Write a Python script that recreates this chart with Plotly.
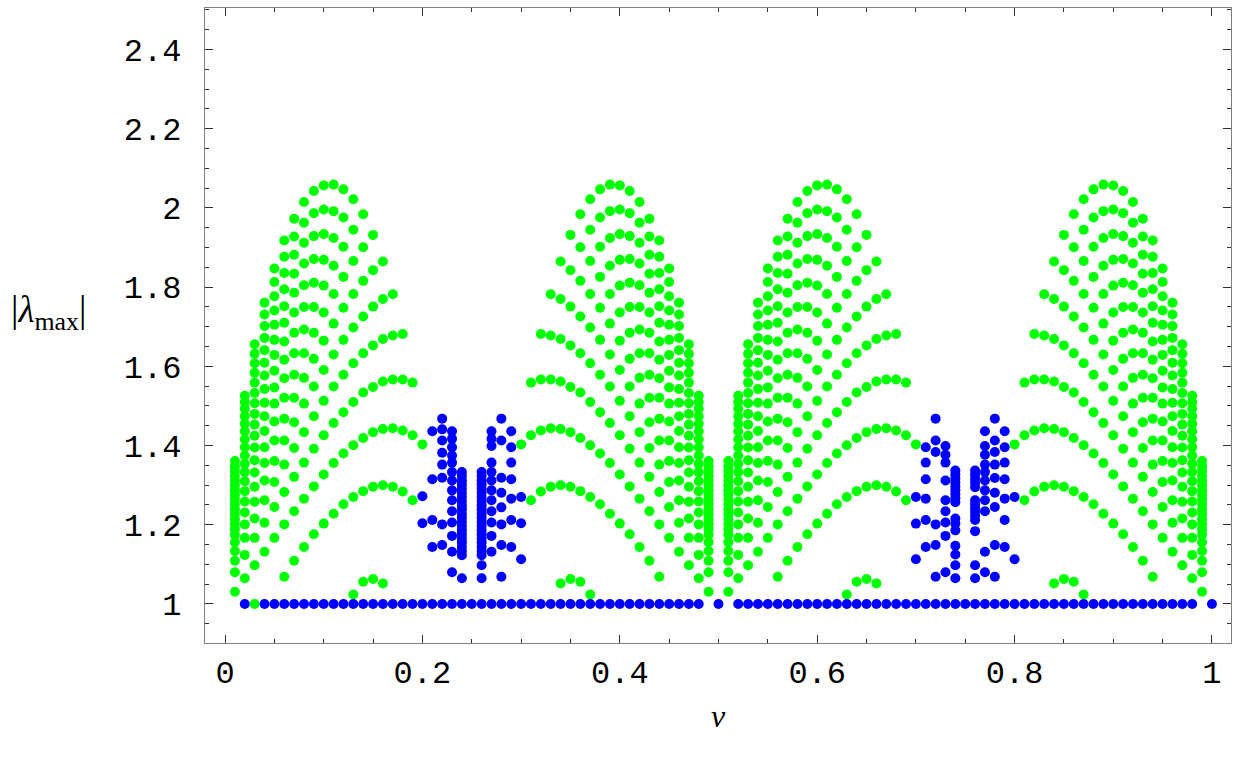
import plotly.graph_objects as go

# ---------------- data ----------------
# green |lambda_max| values, per nu column
green_q1 = {
    0.01: [1.361, 1.348, 1.336, 1.323, 1.312, 1.300, 1.287, 1.275, 1.264, 1.252, 1.239, 1.227, 1.214, 1.202, 1.189, 1.175, 1.156, 1.134, 1.109, 1.080, 1.031],
    0.02: [1.526, 1.510, 1.493, 1.474, 1.455, 1.436, 1.416, 1.396, 1.375, 1.354, 1.333, 1.310, 1.285, 1.259, 1.231, 1.201, 1.167, 1.124, 1.065],
    0.03: [1.656, 1.632, 1.608, 1.584, 1.559, 1.533, 1.507, 1.480, 1.453, 1.425, 1.395, 1.363, 1.332, 1.296, 1.258, 1.216, 1.167, 1.098, 1.000],
    0.04: [1.761, 1.731, 1.702, 1.672, 1.641, 1.609, 1.577, 1.543, 1.508, 1.474, 1.437, 1.396, 1.356, 1.312, 1.262, 1.205, 1.132],
    0.05: [1.847, 1.813, 1.777, 1.741, 1.705, 1.667, 1.629, 1.589, 1.547, 1.506, 1.461, 1.413, 1.361, 1.308, 1.245, 1.167],
    0.06: [1.918, 1.877, 1.836, 1.795, 1.752, 1.710, 1.663, 1.617, 1.570, 1.521, 1.468, 1.413, 1.352, 1.283, 1.201, 1.069],
    0.07: [1.973, 1.928, 1.882, 1.834, 1.786, 1.736, 1.685, 1.633, 1.579, 1.521, 1.459, 1.394, 1.321, 1.234, 1.109],
    0.08: [2.015, 1.963, 1.912, 1.860, 1.805, 1.750, 1.693, 1.633, 1.571, 1.506, 1.434, 1.357, 1.266, 1.144],
    0.09: [2.043, 1.987, 1.929, 1.871, 1.811, 1.750, 1.685, 1.619, 1.549, 1.474, 1.392, 1.297, 1.176],
    0.10: [2.057, 1.996, 1.934, 1.869, 1.804, 1.736, 1.665, 1.591, 1.513, 1.426, 1.327, 1.203],
    0.11: [2.059, 1.992, 1.924, 1.854, 1.783, 1.708, 1.630, 1.549, 1.457, 1.356, 1.228],
    0.12: [2.047, 1.976, 1.902, 1.826, 1.748, 1.667, 1.579, 1.484, 1.380, 1.252],
    0.13: [2.022, 1.945, 1.866, 1.783, 1.698, 1.608, 1.510, 1.401, 1.270, 1.024],
    0.14: [1.984, 1.901, 1.816, 1.726, 1.633, 1.534, 1.419, 1.285, 1.056],
    0.15: [1.932, 1.843, 1.751, 1.653, 1.548, 1.434, 1.296, 1.063],
    0.16: [1.865, 1.770, 1.669, 1.562, 1.442, 1.300, 1.052],
    0.17: [1.782, 1.678, 1.567, 1.444, 1.296],
    0.18: [1.682, 1.567, 1.438, 1.284],
    0.19: [1.559, 1.426, 1.262],
    0.20: [1.403],
}
green_q2 = {
    0.30: [1.403],
    0.31: [1.559, 1.426, 1.262],
    0.32: [1.682, 1.567, 1.438, 1.284],
    0.33: [1.782, 1.678, 1.567, 1.444, 1.296],
    0.34: [1.865, 1.770, 1.669, 1.562, 1.442, 1.300, 1.052],
    0.35: [1.932, 1.843, 1.751, 1.653, 1.548, 1.434, 1.296, 1.063],
    0.36: [1.984, 1.901, 1.816, 1.726, 1.633, 1.534, 1.419, 1.285, 1.056],
    0.37: [2.022, 1.945, 1.866, 1.783, 1.698, 1.608, 1.510, 1.401, 1.270, 1.024],
    0.38: [2.047, 1.976, 1.902, 1.826, 1.748, 1.667, 1.579, 1.484, 1.380, 1.252],
    0.39: [2.059, 1.992, 1.924, 1.854, 1.783, 1.708, 1.630, 1.549, 1.457, 1.356, 1.228],
    0.40: [2.057, 1.996, 1.934, 1.869, 1.804, 1.736, 1.665, 1.591, 1.513, 1.426, 1.327, 1.203],
    0.41: [2.043, 1.987, 1.929, 1.871, 1.811, 1.750, 1.685, 1.619, 1.549, 1.474, 1.392, 1.297, 1.176],
    0.42: [2.015, 1.963, 1.912, 1.860, 1.805, 1.750, 1.693, 1.633, 1.571, 1.506, 1.434, 1.357, 1.266, 1.144],
    0.43: [1.973, 1.928, 1.882, 1.834, 1.786, 1.736, 1.685, 1.633, 1.579, 1.521, 1.459, 1.394, 1.321, 1.234, 1.109],
    0.44: [1.918, 1.877, 1.836, 1.795, 1.752, 1.710, 1.663, 1.617, 1.570, 1.521, 1.468, 1.413, 1.352, 1.283, 1.201, 1.069],
    0.45: [1.847, 1.813, 1.777, 1.741, 1.705, 1.667, 1.629, 1.589, 1.547, 1.506, 1.461, 1.413, 1.361, 1.308, 1.245, 1.167],
    0.46: [1.761, 1.731, 1.702, 1.672, 1.641, 1.609, 1.577, 1.543, 1.508, 1.474, 1.437, 1.396, 1.356, 1.312, 1.262, 1.205, 1.132],
    0.47: [1.656, 1.632, 1.608, 1.584, 1.559, 1.533, 1.507, 1.480, 1.453, 1.425, 1.395, 1.363, 1.332, 1.296, 1.258, 1.216, 1.167, 1.098],
    0.48: [1.526, 1.510, 1.493, 1.474, 1.455, 1.436, 1.416, 1.396, 1.375, 1.354, 1.333, 1.310, 1.285, 1.259, 1.231, 1.201, 1.167, 1.124, 1.065],
    0.49: [1.361, 1.348, 1.336, 1.323, 1.312, 1.300, 1.287, 1.275, 1.264, 1.252, 1.239, 1.227, 1.214, 1.202, 1.189, 1.175, 1.156, 1.134, 1.109, 1.080, 1.031],
}
green_q3 = {
    0.51: [1.361, 1.348, 1.336, 1.323, 1.312, 1.300, 1.287, 1.275, 1.264, 1.252, 1.239, 1.227, 1.214, 1.202, 1.189, 1.175, 1.156, 1.134, 1.109, 1.080, 1.031],
    0.52: [1.526, 1.510, 1.493, 1.474, 1.455, 1.436, 1.416, 1.396, 1.375, 1.354, 1.333, 1.310, 1.285, 1.259, 1.231, 1.201, 1.167, 1.124, 1.065],
    0.53: [1.656, 1.632, 1.608, 1.584, 1.559, 1.533, 1.507, 1.480, 1.453, 1.425, 1.395, 1.363, 1.332, 1.296, 1.258, 1.216, 1.167, 1.098],
    0.54: [1.761, 1.731, 1.702, 1.672, 1.641, 1.609, 1.577, 1.543, 1.508, 1.474, 1.437, 1.396, 1.356, 1.312, 1.262, 1.205, 1.132],
    0.55: [1.847, 1.813, 1.777, 1.741, 1.705, 1.667, 1.629, 1.589, 1.547, 1.506, 1.461, 1.413, 1.361, 1.308, 1.245, 1.167],
    0.56: [1.918, 1.877, 1.836, 1.795, 1.752, 1.710, 1.663, 1.617, 1.570, 1.521, 1.468, 1.413, 1.352, 1.283, 1.201, 1.069],
    0.57: [1.973, 1.928, 1.882, 1.834, 1.786, 1.736, 1.685, 1.633, 1.579, 1.521, 1.459, 1.394, 1.321, 1.234, 1.109],
    0.58: [2.015, 1.963, 1.912, 1.860, 1.805, 1.750, 1.693, 1.633, 1.571, 1.506, 1.434, 1.357, 1.266, 1.144],
    0.59: [2.043, 1.987, 1.929, 1.871, 1.811, 1.750, 1.685, 1.619, 1.549, 1.474, 1.392, 1.297, 1.176],
    0.60: [2.057, 1.996, 1.934, 1.869, 1.804, 1.736, 1.665, 1.591, 1.513, 1.426, 1.327, 1.203],
    0.61: [2.059, 1.992, 1.924, 1.854, 1.783, 1.708, 1.630, 1.549, 1.457, 1.356, 1.228],
    0.62: [2.047, 1.976, 1.902, 1.826, 1.748, 1.667, 1.579, 1.484, 1.380, 1.252],
    0.63: [2.022, 1.945, 1.866, 1.783, 1.698, 1.608, 1.510, 1.401, 1.270, 1.024],
    0.64: [1.984, 1.901, 1.816, 1.726, 1.633, 1.534, 1.419, 1.285, 1.056],
    0.65: [1.932, 1.843, 1.751, 1.653, 1.548, 1.434, 1.296, 1.063],
    0.66: [1.865, 1.770, 1.669, 1.562, 1.442, 1.300, 1.052],
    0.67: [1.782, 1.678, 1.567, 1.444, 1.296],
    0.68: [1.682, 1.567, 1.438, 1.284],
    0.69: [1.559, 1.426, 1.262],
    0.70: [1.403],
}
green_q4 = {
    0.80: [1.403],
    0.81: [1.559, 1.426, 1.262],
    0.82: [1.682, 1.567, 1.438, 1.284],
    0.83: [1.782, 1.678, 1.567, 1.444, 1.296],
    0.84: [1.865, 1.770, 1.669, 1.562, 1.442, 1.300, 1.052],
    0.85: [1.932, 1.843, 1.751, 1.653, 1.548, 1.434, 1.296, 1.063],
    0.86: [1.984, 1.901, 1.816, 1.726, 1.633, 1.534, 1.419, 1.285, 1.056],
    0.87: [2.022, 1.945, 1.866, 1.783, 1.698, 1.608, 1.510, 1.401, 1.270, 1.024],
    0.88: [2.047, 1.976, 1.902, 1.826, 1.748, 1.667, 1.579, 1.484, 1.380, 1.252],
    0.89: [2.059, 1.992, 1.924, 1.854, 1.783, 1.708, 1.630, 1.549, 1.457, 1.356, 1.228],
    0.90: [2.057, 1.996, 1.934, 1.869, 1.804, 1.736, 1.665, 1.591, 1.513, 1.426, 1.327, 1.203],
    0.91: [2.043, 1.987, 1.929, 1.871, 1.811, 1.750, 1.685, 1.619, 1.549, 1.474, 1.392, 1.297, 1.176],
    0.92: [2.015, 1.963, 1.912, 1.860, 1.805, 1.750, 1.693, 1.633, 1.571, 1.506, 1.434, 1.357, 1.266, 1.144],
    0.93: [1.973, 1.928, 1.882, 1.834, 1.786, 1.736, 1.685, 1.633, 1.579, 1.521, 1.459, 1.394, 1.321, 1.234, 1.109],
    0.94: [1.918, 1.877, 1.836, 1.795, 1.752, 1.710, 1.663, 1.617, 1.570, 1.521, 1.468, 1.413, 1.352, 1.283, 1.201, 1.069],
    0.95: [1.847, 1.813, 1.777, 1.741, 1.705, 1.667, 1.629, 1.589, 1.547, 1.506, 1.461, 1.413, 1.361, 1.308, 1.245, 1.167],
    0.96: [1.761, 1.731, 1.702, 1.672, 1.641, 1.609, 1.577, 1.543, 1.508, 1.474, 1.437, 1.396, 1.356, 1.312, 1.262, 1.205, 1.132],
    0.97: [1.656, 1.632, 1.608, 1.584, 1.559, 1.533, 1.507, 1.480, 1.453, 1.425, 1.395, 1.363, 1.332, 1.296, 1.258, 1.216, 1.167, 1.098],
    0.98: [1.526, 1.510, 1.493, 1.474, 1.455, 1.436, 1.416, 1.396, 1.375, 1.354, 1.333, 1.310, 1.285, 1.259, 1.231, 1.201, 1.167, 1.124, 1.065],
    0.99: [1.361, 1.348, 1.336, 1.323, 1.312, 1.300, 1.287, 1.275, 1.264, 1.252, 1.239, 1.227, 1.214, 1.202, 1.189, 1.175, 1.156, 1.134, 1.109, 1.080, 1.031],
}

# blue clusters
blue_left = {
    0.20: [1.272, 1.204],
    0.21: [1.436, 1.315, 1.212, 1.144],
    0.22: [1.468, 1.441, 1.413, 1.382, 1.352, 1.319, 1.201, 1.149],
    0.23: [1.436, 1.417, 1.396, 1.375, 1.357, 1.333, 1.312, 1.287, 1.262, 1.234, 1.206, 1.172, 1.132, 1.080],
    0.24: [1.333, 1.323, 1.312, 1.302, 1.291, 1.281, 1.270, 1.260, 1.249, 1.239, 1.228, 1.218, 1.207, 1.197, 1.186, 1.176, 1.165, 1.155, 1.144, 1.134, 1.123, 1.065],
    0.26: [1.333, 1.323, 1.312, 1.302, 1.291, 1.281, 1.270, 1.260, 1.249, 1.239, 1.228, 1.218, 1.207, 1.197, 1.186, 1.176, 1.165, 1.155, 1.144, 1.134, 1.123, 1.098, 1.065],
    0.27: [1.436, 1.417, 1.399, 1.357, 1.333, 1.312, 1.287, 1.262, 1.234, 1.206, 1.172, 1.132],
    0.28: [1.468, 1.413, 1.319, 1.281, 1.244, 1.201, 1.149, 1.069],
    0.29: [1.436, 1.396, 1.357, 1.315, 1.266, 1.212, 1.144],
    0.30: [1.270, 1.204, 1.113],
}
blue_right = {
    0.70: [1.270, 1.203, 1.113],
    0.71: [1.396, 1.357, 1.315, 1.266, 1.212, 1.144],
    0.72: [1.468, 1.413, 1.384, 1.201, 1.149, 1.069],
    0.73: [1.399, 1.377, 1.357, 1.312, 1.262, 1.234, 1.206, 1.172, 1.080],
    0.74: [1.337, 1.327, 1.317, 1.307, 1.297, 1.287, 1.277, 1.267, 1.257, 1.216, 1.203, 1.186, 1.147, 1.125, 1.098, 1.065],
    0.76: [1.337, 1.327, 1.316, 1.306, 1.295, 1.262, 1.252, 1.242, 1.232, 1.222, 1.212, 1.184, 1.098, 1.065],
    0.77: [1.436, 1.399, 1.377, 1.352, 1.333, 1.312, 1.287, 1.262, 1.234, 1.132, 1.080],
    0.78: [1.468, 1.413, 1.384, 1.352, 1.318, 1.281, 1.245, 1.149, 1.069],
    0.79: [1.436, 1.396, 1.357, 1.315, 1.266, 1.212, 1.144],
    0.80: [1.270, 1.113],
}

# blue points on the line |lambda_max| = 1
baseline_nu = [0.02, 0.04, 0.05, 0.06, 0.07, 0.08, 0.09, 0.10, 0.11, 0.12, 0.13, 0.14,
               0.15, 0.16, 0.17, 0.18, 0.19, 0.20, 0.21, 0.22, 0.23, 0.24, 0.25, 0.26,
               0.27, 0.28, 0.29, 0.30, 0.31, 0.32, 0.33, 0.34, 0.35, 0.36, 0.37, 0.38,
               0.39, 0.40, 0.41, 0.42, 0.43, 0.44, 0.45, 0.46, 0.47, 0.48, 0.50, 0.52,
               0.53, 0.54, 0.55, 0.56, 0.57, 0.58, 0.59, 0.60, 0.61, 0.62, 0.63, 0.64,
               0.65, 0.66, 0.67, 0.68, 0.69, 0.70, 0.71, 0.72, 0.73, 0.74, 0.75, 0.76,
               0.77, 0.78, 0.79, 0.80, 0.81, 0.82, 0.83, 0.84, 0.85, 0.86, 0.87, 0.88,
               0.89, 0.90, 0.91, 0.92, 0.93, 0.94, 0.95, 0.96, 0.97, 0.98, 1.00]
baseline_lambda = 1.0

x_ticks = [0, 0.2, 0.4, 0.6, 0.8, 1]
x_ticktext = ["0", "0.2", "0.4", "0.6", "0.8", "1"]
y_ticks = [1, 1.2, 1.4, 1.6, 1.8, 2, 2.2, 2.4]
y_ticktext = ["1", "1.2", "1.4", "1.6", "1.8", "2", "2.2", "2.4"]

GREEN = "#00ff00"
BLUE = "#0000ff"


def flatten(d):
    xs, ys = [], []
    for nu, vals in d.items():
        for v in vals:
            xs.append(nu)
            ys.append(v)
    return xs, ys


fig = go.Figure()

gx, gy = [], []
for d in (green_q1, green_q2, green_q3, green_q4):
    a, b = flatten(d)
    gx += a
    gy += b

bx, by = [], []
for d in (blue_left, blue_right):
    a, b = flatten(d)
    bx += a
    by += b
bx += baseline_nu
by += [baseline_lambda] * len(baseline_nu)

marker_common = dict(size=10, opacity=1, line=dict(width=0))
fig.add_trace(go.Scatter(x=gx, y=gy, mode="markers",
                         marker=dict(color=GREEN, **marker_common),
                         hoverinfo="x+y", showlegend=False))
fig.add_trace(go.Scatter(x=bx, y=by, mode="markers",
                         marker=dict(color=BLUE, **marker_common),
                         hoverinfo="x+y", showlegend=False))

tick_font = dict(family="Liberation Mono, Courier New, monospace", size=32, color="#000")
axis_common = dict(
    showline=True, linecolor="#808080", linewidth=1.3, mirror="allticks",
    ticks="inside", ticklen=8, tickwidth=1, tickcolor="#333",
    showgrid=False, zeroline=False, tickfont=tick_font,
)

fig.update_xaxes(range=[-0.0203, 1.0193], tickvals=x_ticks, ticktext=x_ticktext,
                 minor=dict(dtick=0.05, tick0=0, ticks="inside", ticklen=4, tickcolor="#333"),
                 ticklabelstandoff=0, **axis_common)
fig.update_yaxes(range=[0.9015, 2.505], tickvals=y_ticks, ticktext=y_ticktext,
                 minor=dict(dtick=0.05, tick0=0, ticks="inside", ticklen=4, tickcolor="#333"),
                 ticklabelstandoff=16, **axis_common)

fig.add_annotation(text="|<i>λ</i><sub>max</sub>|", xref="paper", yref="paper",
                   x=-0.153, y=0.52, xanchor="center", yanchor="middle", showarrow=False,
                   font=dict(family="Liberation Serif, DejaVu Serif, serif", size=37, color="#000"))
fig.add_annotation(text="<i>ν</i>", xref="paper", yref="paper",
                   x=0.5, y=-0.115, xanchor="center", yanchor="middle", showarrow=False,
                   font=dict(family="Liberation Serif, DejaVu Serif, serif", size=32, color="#000"))

fig.update_layout(width=1233, height=759, margin=dict(l=205, r=2, t=8, b=116),
                  paper_bgcolor="white", plot_bgcolor="white")

fig.write_html("out.html", config={"displayModeBar": False},
               post_script="document.body.style.margin='0px';")
